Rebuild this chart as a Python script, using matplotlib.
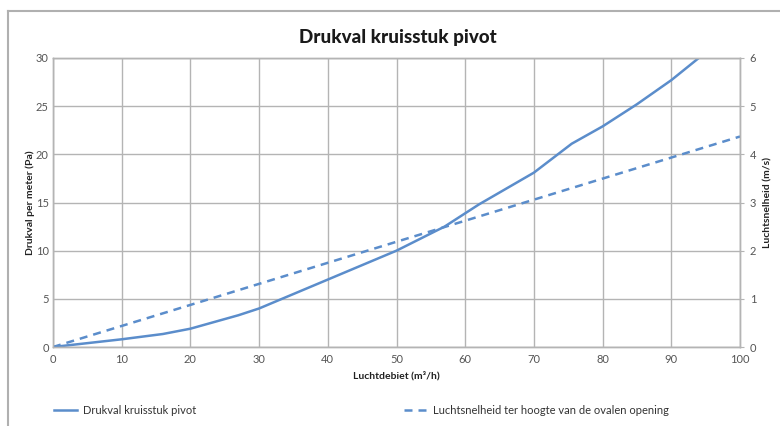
import numpy as np
import matplotlib.pyplot as plt
from matplotlib.lines import Line2D

plt.rcParams['font.family'] = ['Lato', 'DejaVu Sans']

# --- Data ---
debiet = [0, 5, 10, 16, 20, 27, 30, 35, 40, 45, 50, 57, 62, 70, 75.5, 80, 85, 90, 94]
drukval = [0, 0.4, 0.8, 1.35, 1.9, 3.3, 4.0, 5.5, 7.0, 8.5, 10.0, 12.5, 14.8, 18.1, 21.1, 22.9, 25.2, 27.7, 30.0]
debiet_v = [0, 100]
snelheid = [0, 4.37]

x_ticks = list(range(0, 101, 10))
y_ticks = list(range(0, 31, 5))
y2_ticks = list(range(0, 7))

blue = '#5b8dcb'
grid_c = '#b4b4b4'
txt_c = '#555555'

# --- Plot ---
fig = plt.figure(figsize=(7.8, 4.26), dpi=100)
ax = fig.add_axes([53 / 780, 1 - 347 / 426, 687 / 780, 289 / 426])
ax2 = ax.twinx()

ax.plot(debiet, drukval, color=blue, lw=1.8, solid_capstyle='butt')
ax2.plot(debiet_v, snelheid, color=blue, lw=1.8, dashes=(3.2, 2.4))

ax.set_xlim(0, 100)
ax.set_ylim(0, 30)
ax2.set_ylim(0, 6)
ax.set_xticks(x_ticks)
ax.set_yticks(y_ticks)
ax2.set_yticks(y2_ticks)
ax.grid(True, color=grid_c, lw=1)
ax.set_axisbelow(True)

for a in (ax, ax2):
    for s in a.spines.values():
        s.set_color(grid_c)
        s.set_linewidth(1)
ax.tick_params(axis='x', length=0, labelsize=8, labelcolor=txt_c, pad=5)
ax.tick_params(axis='y', length=0, labelsize=8, labelcolor=txt_c, pad=3)
ax2.tick_params(axis='y', length=3, color=grid_c, labelsize=8, labelcolor=txt_c, pad=4)

ax.set_xlabel('Luchtdebiet (m³/h)', fontsize=7.5, fontweight='bold', color='#222222', labelpad=4)
ax.set_ylabel('Drukval per meter (Pa)', fontsize=7.5, fontweight='bold', color='#222222')
ax.yaxis.set_label_coords(-0.026, 0.5)
ax2.set_ylabel('Luchtsnelheid (m/s)', fontsize=7.5, fontweight='bold', color='#222222', labelpad=5)

fig.text(398 / 780, 1 - 38 / 426, 'Drukval kruisstuk pivot', ha='center', va='center',
         fontsize=13.5, fontweight='black', color='#1a1a1a')

# --- Legend ---
h1 = Line2D([], [], color=blue, lw=1.8)
h2 = Line2D([], [], color=blue, lw=1.8, dashes=(3.2, 2.4))
fig.legend(handles=[h1], labels=['Drukval kruisstuk pivot'], loc='center left',
           bbox_to_anchor=(44 / 780, 1 - 410 / 426), frameon=False, fontsize=8,
           handlelength=2.1, handletextpad=0.5, labelcolor='#333333')
fig.legend(handles=[h2], labels=['Luchtsnelheid ter hoogte van de ovalen opening'], loc='center left',
           bbox_to_anchor=(394 / 780, 1 - 410 / 426), frameon=False, fontsize=8,
           handlelength=2.1, handletextpad=0.5, labelcolor='#333333')

# --- Frame ---
fig.add_artist(Line2D([8 / 780, 8 / 780], [0, 1 - 11 / 426], transform=fig.transFigure, color='#b0b0b0', lw=1.5))
fig.add_artist(Line2D([8 / 780, 1], [1 - 11 / 426, 1 - 11 / 426], transform=fig.transFigure, color='#b0b0b0', lw=1.5))

fig.savefig('out.png', dpi=100)
